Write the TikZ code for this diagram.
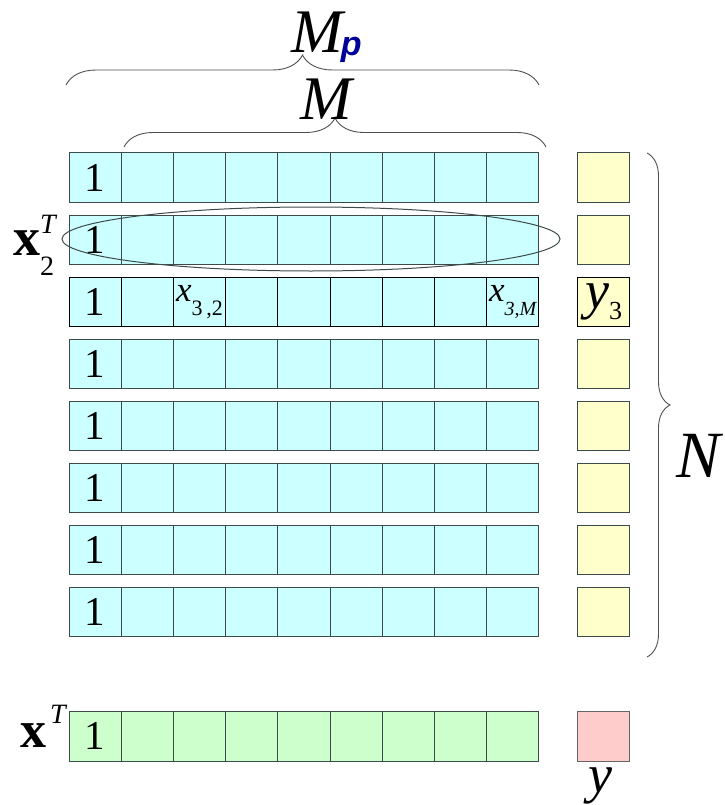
\documentclass[tikz,border=0pt]{standalone}
\usepackage{fontspec}
\setmainfont{Liberation Serif}
\newfontfamily\pfont{Liberation Sans}
\usepackage{tikz}
\usetikzlibrary{positioning,shapes.geometric,decorations.pathreplacing}
\definecolor{cellcyan}{RGB}{204,255,255}
\definecolor{cellyel}{RGB}{255,255,204}
\definecolor{cellgrn}{RGB}{204,255,204}
\definecolor{cellpink}{RGB}{255,204,204}
\definecolor{edgegray}{RGB}{62,74,74}
\definecolor{boxgray}{RGB}{100,100,100}
\definecolor{bracegray}{RGB}{80,80,80}
\definecolor{pblue}{RGB}{0,0,153}
\tikzset{
  cell/.style={
    rectangle, draw=edgegray, fill=cellcyan, line width=1pt,
    minimum width=52.2pt, minimum height=49.6pt, inner sep=0pt,
    outer sep=0pt, font=\fontsize{41}{41}\selectfont
  },
  ycell/.style={cell, fill=cellyel, draw=boxgray, minimum width=52pt},
  bigsym/.style={inner sep=0pt, font=\fontsize{62}{62}\selectfont\itshape},
  bracedec/.style={
    decorate, decoration={brace, amplitude=#1}, draw=bracegray,
    line width=0.9pt
  }
}

\begin{document}
\begin{tikzpicture}[x=1pt, y=-1pt]
  \useasboundingbox (0,0) rectangle (724,805);
  % training rows and targets
  \foreach \r/\ec in {1/edgegray,2/edgegray,3/black,4/edgegray,5/edgegray,
                      6/edgegray,7/edgegray,8/edgegray}{
    \foreach \c in {0,...,8}
      \node[cell, draw=\ec] (c\r-\c) at (95.1+52.2*\c, 115.8+62*\r) {\ifnum\c=0 1\fi};
    \node[ycell, draw=\ec] (y\r) at (603.7, 115.8+62*\r) {};
  }
  \node[inner sep=0pt] (x32) at (c3-2)
    {{\fontsize{35}{35}\selectfont\itshape x}\raisebox{-14pt}{\fontsize{22}{22}\selectfont 3\,,2}};
  \node[inner sep=0pt] (x3M) at (c3-8)
    {{\fontsize{35}{35}\selectfont\itshape x}\raisebox{-14pt}{\fontsize{20}{20}\selectfont\itshape 3,M}};
  \node[inner sep=0pt] (y3t) at (y3)
    {{\fontsize{54}{54}\selectfont\itshape y}\raisebox{-11pt}{\fontsize{26}{26}\selectfont 3}};
  \node[ellipse, draw=edgegray, line width=1pt, minimum width=498pt,
        minimum height=64pt, inner sep=0pt] (sel) at (311,239) {};
  \node[inner sep=0pt, anchor=base west] (x2T) at (13,255)
    {{\fontsize{54}{54}\selectfont\bfseries x}{\fontsize{28}{28}\selectfont\rlap{\raisebox{22pt}{\itshape T}}\raisebox{-20pt}{2}}};
  % query row
  \foreach \c in {0,...,8}
    \node[cell, fill=cellgrn] (g\c) at (95.1+52.2*\c, 736.4) {\ifnum\c=0 1\fi};
  \node[ycell, fill=cellpink] (yq) at (603.7, 736.4) {};
  \node[inner sep=0pt, anchor=base west] (xT) at (20,747)
    {{\fontsize{52}{52}\selectfont\bfseries x}\kern4pt\raisebox{24pt}{\fontsize{28}{28}\selectfont\itshape T}};
  \node[bigsym, font=\fontsize{54}{54}\selectfont\itshape, anchor=base] (ylab) at (600,792) {y};
  % braces
  \coordinate (mpL) at (66,85);
  \coordinate (mpR) at (539,85);
  \coordinate (mL) at (124,147);
  \coordinate (mR) at (546,147);
  \coordinate (nT) at (647,153);
  \coordinate (nB) at (647,657);
  \draw[bracedec=30] (mpL) -- (mpR);
  \draw[bracedec=29] (mL) -- (mR);
  \draw[bracedec=23] (nT) -- (nB);
  \node[bigsym, anchor=base west] (Mp) at (291,53)
    {M\kern-2pt\raisebox{-3pt}{\pfont\bfseries\itshape\fontsize{34}{34}\selectfont\color{pblue}p}};
  \node[bigsym, anchor=base] (M) at (326,120) {M};
  \node[bigsym, font=\fontsize{66}{66}\selectfont\itshape, anchor=base west] (N) at (676,477) {N};
\end{tikzpicture}
\end{document}
